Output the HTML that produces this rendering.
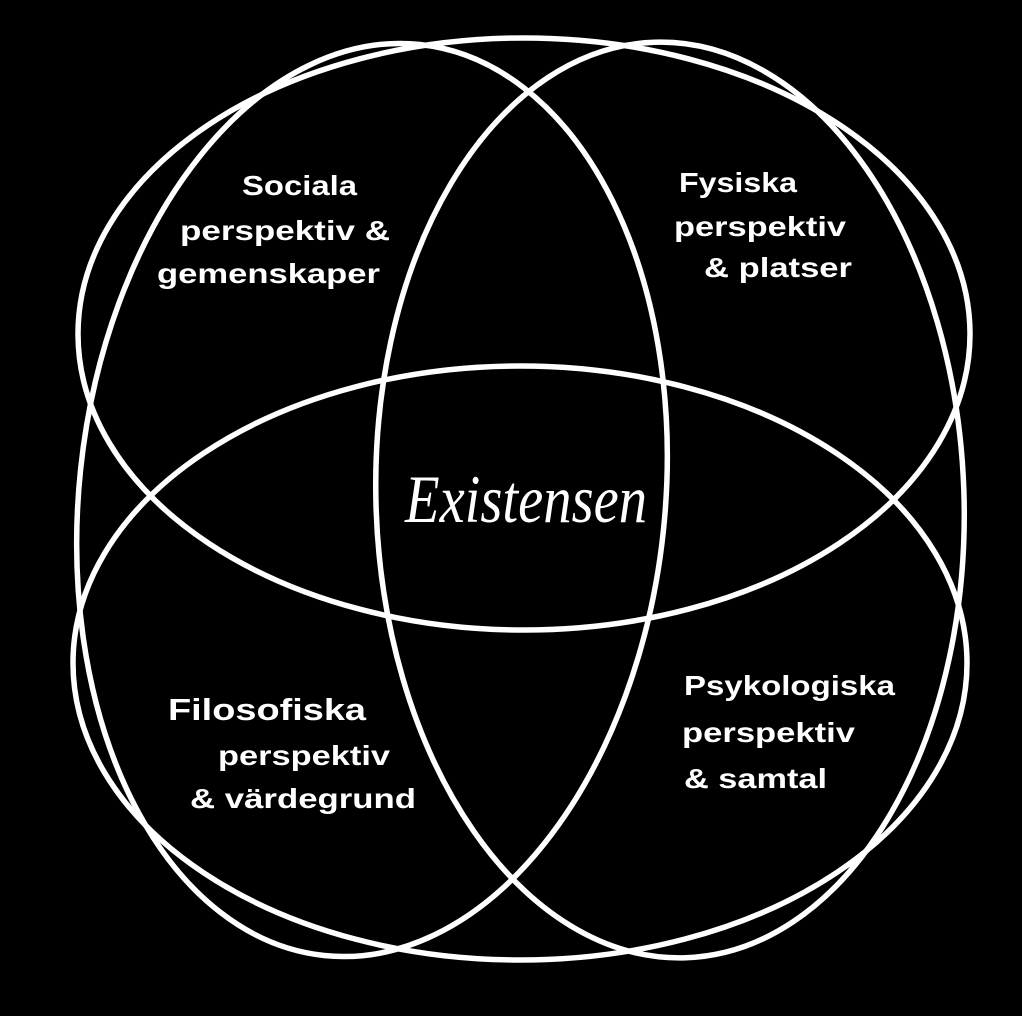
<!DOCTYPE html>
<html><head><meta charset="utf-8"><style>
html,body{margin:0;padding:0;background:#000;}
svg{display:block;}
text{font-family:"Liberation Sans","DejaVu Sans",sans-serif;font-weight:bold;fill:#fff;font-size:28px;}
</style></head><body>
<svg width="1022" height="1016" viewBox="0 0 1022 1016" xmlns="http://www.w3.org/2000/svg">
<rect width="1022" height="1016" fill="#000"/>
<g fill="none" stroke="#fff" stroke-width="5.5">
<ellipse cx="524" cy="334" rx="446" ry="296"/>
<ellipse cx="520" cy="663" rx="447" ry="297"/>
<ellipse cx="372" cy="500" rx="293" ry="458" transform="rotate(6 372 500)"/>
<ellipse cx="670" cy="500" rx="294" ry="458" transform="rotate(-2 670 500)"/>
</g>
<text x="242" y="195" textLength="115" lengthAdjust="spacingAndGlyphs">Sociala</text>
<text x="180" y="240" textLength="210" lengthAdjust="spacingAndGlyphs">perspektiv &amp;</text>
<text x="157" y="283" textLength="223" lengthAdjust="spacingAndGlyphs">gemenskaper</text>
<text x="679" y="192" textLength="118" lengthAdjust="spacingAndGlyphs">Fysiska</text>
<text x="674" y="236" textLength="172" lengthAdjust="spacingAndGlyphs">perspektiv</text>
<text x="704" y="277" textLength="148" lengthAdjust="spacingAndGlyphs">&amp; platser</text>
<text x="168" y="720" style="font-size:31px" textLength="198" lengthAdjust="spacingAndGlyphs">Filosofiska</text>
<text x="218" y="765" textLength="172" lengthAdjust="spacingAndGlyphs">perspektiv</text>
<text x="190" y="808" textLength="226" lengthAdjust="spacingAndGlyphs">&amp; värdegrund</text>
<text x="684" y="695" textLength="211" lengthAdjust="spacingAndGlyphs">Psykologiska</text>
<text x="682" y="742" textLength="173" lengthAdjust="spacingAndGlyphs">perspektiv</text>
<text x="684" y="788" textLength="143" lengthAdjust="spacingAndGlyphs">&amp; samtal</text>
<text x="405" y="522" style="font-family:'Liberation Serif','DejaVu Serif',serif;font-style:italic;font-weight:normal;font-size:68px" textLength="242" lengthAdjust="spacingAndGlyphs">Existensen</text>
</svg>
</body></html>
